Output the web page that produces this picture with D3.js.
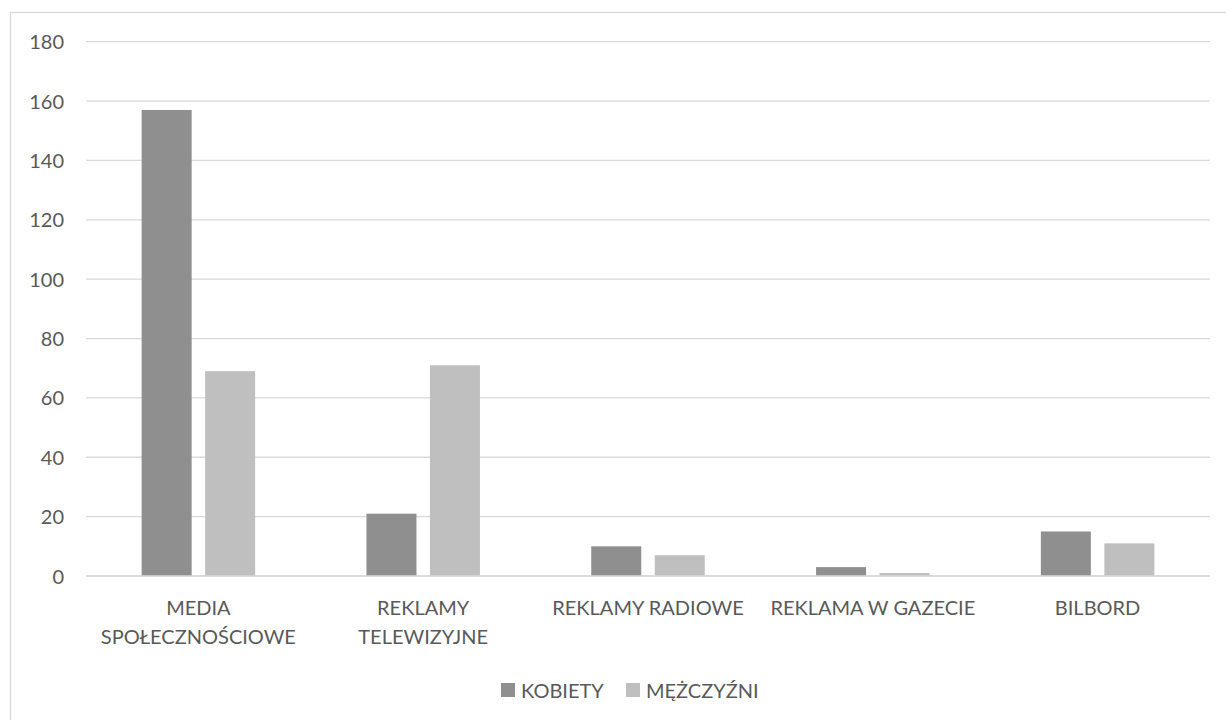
<!DOCTYPE html>
<html><head><meta charset="utf-8">
<script src="https://cdn.jsdelivr.net/npm/d3@7"></script>
<style>
html,body{margin:0;padding:0;background:#fff;}
svg text{font-family:"Lato","Open Sans",sans-serif;fill:#595959;}
</style></head>
<body>
<svg id="c" width="1226" height="720"></svg>
<script>
const categories = ["MEDIA SPOŁECZNOŚCIOWE","REKLAMY TELEWIZYJNE","REKLAMY RADIOWE","REKLAMA W GAZECIE","BILBORD"];
const seriesNames = ["KOBIETY","MĘŻCZYŹNI"];
const kobiety = [157,21,10,3,15];
const mezczyzni = [69,71,7,1,11];
const yTicks = [0,20,40,60,80,100,120,140,160,180];
const colors = ["#8f8f8f","#bfbfbf"];

const svg = d3.select("#c");
const W = 1226, H = 720;
const m = {left:86, right:16, top:41.7, bottom:144};
const pw = 1210 - m.left, ph = 576 - m.top;

svg.append("rect").attr("x",10.5).attr("y",12.5).attr("width",1240).attr("height",740)
  .attr("fill","#fff").attr("stroke","#d9d9d9").attr("stroke-width",1.3);

const g = svg.append("g").attr("transform",`translate(${m.left},${m.top})`);
const x = d3.scaleBand().domain(categories).range([0,pw]).paddingInner(0).paddingOuter(0);
const y = d3.scaleLinear().domain([0,180]).range([ph,0]);

// gridlines
g.append("g").selectAll("line").data(yTicks).join("line")
  .attr("x1",0).attr("x2",pw).attr("y1",d=>y(d)).attr("y2",d=>y(d))
  .attr("stroke","#d9d9d9").attr("stroke-width",1.3);

// y axis labels
const yAxis = d3.axisLeft(y).tickValues(yTicks).tickSize(0).tickPadding(22);
const ya = g.append("g").call(yAxis);
ya.select(".domain").remove();
ya.selectAll("text").style("font-size","20px").attr("fill","#595959").attr("dy","0.35em");

const barW = 50, gap = 13.5;
const data = [kobiety, mezczyzni];
const xs = d3.scaleBand().domain([0,1]).range([-(barW+gap/2)-0, barW+gap/2]).paddingInner(gap/(barW*2+gap)).paddingOuter(0);
data.forEach((vals,si)=>{
  g.append("g").selectAll("rect").data(vals).join("rect")
    .attr("x",(d,i)=>x(categories[i])+x.bandwidth()/2 + (si===0 ? -gap/2-barW : gap/2))
    .attr("width",barW)
    .attr("y",d=>y(d)).attr("height",d=>y(0)-y(d))
    .attr("fill",colors[si]);
});
// baseline
g.append("line").attr("x1",0).attr("x2",pw).attr("y1",y(0)).attr("y2",y(0)).attr("stroke","#d9d9d9").attr("stroke-width",1.3);

// x labels with wrapping
const xl = g.append("g").attr("transform",`translate(0,${ph})`);
categories.forEach(c=>{
  const t = xl.append("text").attr("x",x(c)+x.bandwidth()/2).attr("y",39)
    .attr("text-anchor","middle").style("font-size","20px");
  const words = c.split(" ");
  let line = [], lines = [];
  const tmp = t.append("tspan");
  words.forEach(w=>{
    line.push(w);
    tmp.text(line.join(" "));
    if (tmp.node().getComputedTextLength() > x.bandwidth()-8 && line.length>1){
      line.pop(); lines.push(line.join(" ")); line=[w];
    }
  });
  lines.push(line.join(" "));
  tmp.remove();
  lines.forEach((l,i)=>t.append("tspan").attr("x",x(c)+x.bandwidth()/2).attr("dy",i===0?0:29).text(l));
});

// legend
const leg = svg.append("g");
const legX = [501,626];
seriesNames.forEach((s,i)=>{
  leg.append("rect").attr("x",legX[i]).attr("y",683).attr("width",14).attr("height",14).attr("fill",colors[i]);
  leg.append("text").attr("x",legX[i]+20).attr("y",697.5).style("font-size","20px").text(s);
});
</script>
</body></html>
